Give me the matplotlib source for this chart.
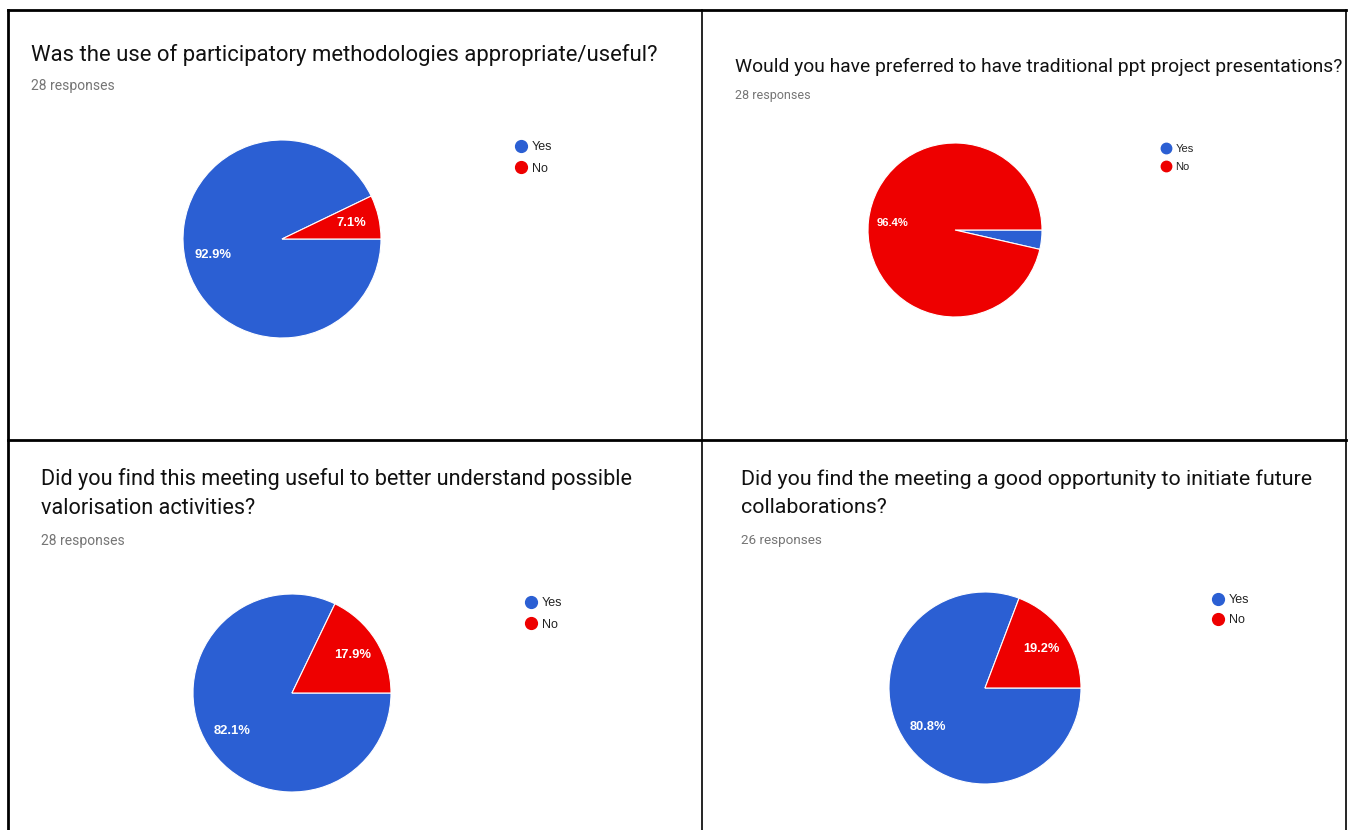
#!/usr/bin/env python3
"""
Four Google-Forms style Yes/No pie charts from the meeting feedback survey.
"""

import matplotlib
matplotlib.use('Agg')
import matplotlib.pyplot as plt
from matplotlib.lines import Line2D

# Survey data
questions = [
    'Was the use of participatory methodologies appropriate/useful?',
    'Would you have preferred to have traditional ppt project presentations?',
    'Did you find this meeting useful to better understand possible\nvalorisation activities?',
    'Did you find the meeting a good opportunity to initiate future\ncollaborations?',
]
answers = ['Yes', 'No']
yes_counts = [26, 1, 23, 21]
no_counts = [2, 27, 5, 5]
responses = [28, 28, 28, 26]

BLUE = '#2b5fd3'
RED = '#ee0000'
W, H = 1351, 830

# Panel layout in pixels (x from left, y from top)
title_xy = [(31, 44), (735, 58), (41, 468), (741, 469)]
title_size = [15.9, 13.9, 15.6, 15.4]
title_spacing = [1.5, 1.5, 1.5, 1.6]
resp_xy = [(31, 90), (735, 99), (41, 545), (741, 544)]
resp_size = [10.0, 9.0, 10.0, 9.7]
pie_center = [(282, 239), (955, 230), (292, 693), (985, 688)]
pie_radius = [99, 87, 99, 96]
pct_size = [9.4, 8.1, 9.4, 9.2]
legend_xy = [(510, 135), (1156, 138), (520, 591), (1207, 588)]
legend_size = [9.0, 8.0, 9.0, 9.0]
legend_gap = [0.75, 0.75, 0.75, 0.65]


def fx(x):
    return x / W


def fy(y):
    return 1 - y / H


fig = plt.figure(figsize=(W / 100, H / 100), dpi=100)
fig.patch.set_facecolor('white')

# Frame lines around the four screenshots
frame = [
    ((8, 1346), (10, 10), 2.0),
    ((8, 8), (10, 830), 2.0),
    ((702, 702), (10, 830), 1.2),
    ((1346, 1346), (10, 830), 1.2),
    ((8, 1346), (440, 440), 2.0),
]
for xs, ys, lw in frame:
    fig.add_artist(Line2D([fx(x) for x in xs], [fy(y) for y in ys],
                          color='black', linewidth=lw))

for i in range(4):
    # Title and response count
    tx, ty = title_xy[i]
    fig.text(fx(tx), fy(ty), questions[i], fontsize=title_size[i],
             family='Roboto', color='#111111', va='top', ha='left',
             linespacing=title_spacing[i])
    rx, ry = resp_xy[i]
    fig.text(fx(rx), fy(ry), f'{responses[i]} responses', fontsize=resp_size[i],
             family='Roboto', color='#757575', va='baseline', ha='left')

    # Pie
    cx, cy = pie_center[i]
    r = pie_radius[i]
    ax = fig.add_axes([fx(cx - r), fy(cy + r), 2 * r / W, 2 * r / H])
    wedges, texts, autotexts = ax.pie(
        [yes_counts[i], no_counts[i]],
        colors=[BLUE, RED],
        startangle=0,
        counterclock=False,
        radius=1,
        autopct=lambda p: f'{p:.1f}%' if p > 5 else '',
        pctdistance=0.72,
        wedgeprops={'edgecolor': 'white', 'linewidth': 0.8},
        textprops={'color': 'white', 'fontsize': pct_size[i],
                   'family': 'Liberation Sans', 'fontweight': 'bold'},
    )
    ax.set_xlim(-1, 1)
    ax.set_ylim(-1, 1)
    ax.axis('off')

    # Legend with round markers
    handles = [Line2D([], [], marker='o', linestyle='none', markersize=legend_size[i] - 0.5,
                      markerfacecolor=c, markeredgecolor=c) for c in [BLUE, RED]]
    lx, ly = legend_xy[i]
    leg = ax.legend(handles, answers, loc='upper left',
                    bbox_to_anchor=(fx(lx), fy(ly)), bbox_transform=fig.transFigure,
                    frameon=False, borderpad=0, handlelength=0.8, handletextpad=0.45,
                    labelspacing=legend_gap[i],
                    prop={'family': 'Liberation Sans', 'size': legend_size[i]})
    for t in leg.get_texts():
        t.set_color('#222222')

plt.savefig('out.png', dpi=100)
